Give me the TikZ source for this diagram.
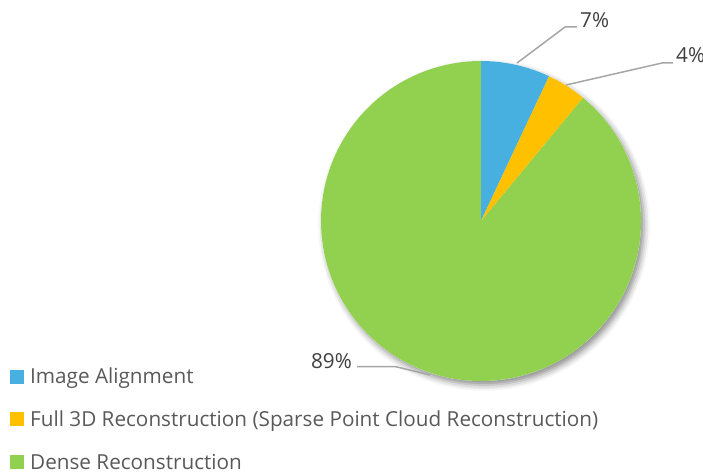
\documentclass[tikz,border=0pt]{standalone}
\usepackage{fontspec}
\setmainfont{Open Sans}
\usetikzlibrary{shadows.blur}
\definecolor{sliceblue}{HTML}{47B0E0}
\definecolor{sliceorange}{HTML}{FFC000}
\definecolor{slicegreen}{HTML}{92D050}
\definecolor{legendtext}{HTML}{595959}
\definecolor{labeltext}{HTML}{404040}
\definecolor{leader}{HTML}{A6A6A6}
\tikzset{
  legendbox/.style={minimum size=14pt, inner sep=0pt, outer sep=0pt},
  legendlabel/.style={anchor=base west, inner sep=0pt, text=legendtext, font=\fontsize{20.7pt}{24pt}\selectfont},
  pctlabel/.style={inner sep=0pt, text=labeltext, font=\fontsize{20.7pt}{24pt}\selectfont},
  leaderline/.style={draw=leader, line width=1.5pt},
}
\begin{document}
\begin{tikzpicture}[x=1pt,y=1pt]
\useasboundingbox (0,0) rectangle (703,472);
% pie shadow
\fill[white, blur shadow={shadow xshift=3pt, shadow yshift=-4pt, shadow blur radius=6pt, shadow opacity=45}] (481,251) circle[radius=160pt];
\coordinate (c) at (481,251);
% slices
\fill[slicegreen] (c) -- ++(50.4:160pt) arc[start angle=50.4, end angle=-270, radius=160pt] -- cycle;
\fill[sliceblue] (c) -- ++(90:160pt) arc[start angle=90, end angle=64.8, radius=160pt] -- cycle;
\fill[sliceorange] (c) -- ++(64.8:160pt) arc[start angle=64.8, end angle=50.4, radius=160pt] -- cycle;
% leader anchors on slices
\coordinate (pa) at (517,409);
\coordinate (pb) at (566,387);
\coordinate (pc) at (430,97);
% labels
\node[pctlabel, anchor=base west] (la) at (580,444) {7\%};
\node[pctlabel, anchor=base west] (lb) at (676,409) {4\%};
\node[pctlabel, anchor=base east] (lc) at (352,104) {89\%};
\draw[leaderline] (pa) -- (565,445) -- ([xshift=-3pt,yshift=1pt]la.base west);
\draw[leaderline] (pb) -- (662,409) -- ([xshift=-3pt]lb.base west);
\draw[leaderline] ([xshift=5pt,yshift=1.5pt]lc.base east) -- (395,105.5) -- (pc);
% legend
\node[legendbox, fill=sliceblue] (k1) at (17,95.5) {};
\node[legendlabel] (t1) at (30,89) {Image Alignment};
\node[legendbox, fill=sliceorange] (k2) at (17,53) {};
\node[legendlabel] (t2) at (30,46) {Full 3D Reconstruction (Sparse Point Cloud Reconstruction)};
\node[legendbox, fill=slicegreen] (k3) at (17,10) {};
\node[legendlabel] (t3) at (30,3) {Dense Reconstruction};
\end{tikzpicture}
\end{document}
